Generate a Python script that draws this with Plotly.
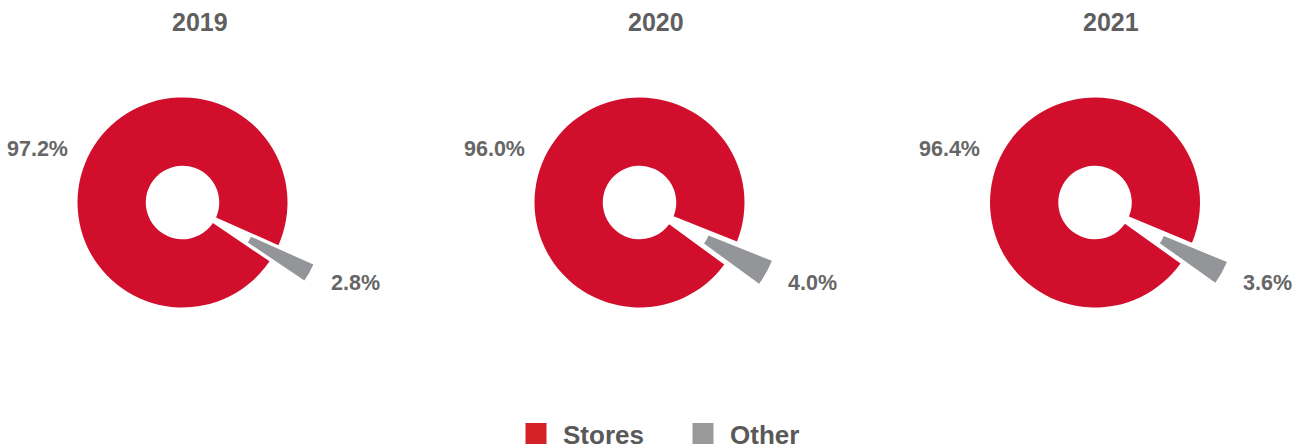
import math
import plotly.graph_objects as go

years = ["2019", "2020", "2021"]
categories = ["Stores", "Other"]
stores_pct = [97.2, 96.0, 96.4]
other_pct = [2.8, 4.0, 3.6]

slice_colors = ["#D10F2C", "#939598"]
legend_colors = ["#D42027", "#999999"]

FONT = "Liberation Sans, Arial, sans-serif"
W, H = 1294, 446
centers_x = [182.5, 639.5, 1095.0]
center_y = 202.5
radius = 105.0
pull = 0.38
other_center_angle = 119.0  # degrees clockwise from 12 o'clock
title_x = [200, 656, 1111]
label_r_stores = 125.0
label_r_other = 167.0
stores_label_tilt = -3.5

size = 2 * radius * (1 + pull)
wx = size / W
wy = size / H
yc = 1 - center_y / H


def polar_to_paper(cx, cy, r, ang_deg):
    a = math.radians(ang_deg)
    px = cx + r * math.sin(a)
    py = cy - r * math.cos(a)
    return px / W, 1 - py / H


fig = go.Figure()
for i, yr in enumerate(years):
    cx_px = centers_x[i]
    cx = cx_px / W
    vals = [stores_pct[i], other_pct[i]]
    total = sum(vals)
    rot = other_center_angle + 180 * other_pct[i] / total
    fig.add_trace(go.Pie(
        labels=categories,
        values=vals,
        sort=False,
        direction="clockwise",
        rotation=rot,
        hole=0.35,
        pull=[0, pull],
        marker=dict(colors=slice_colors, line=dict(width=0)),
        textinfo="none",
        domain=dict(x=[cx - wx / 2, cx + wx / 2], y=[yc - wy / 2, yc + wy / 2]),
        showlegend=False,
        name=yr,
        hovertemplate="%{label}: %{percent:.1%}<extra>" + yr + "</extra>",
    ))
    stores_mid = rot + 180 * stores_pct[i] / total
    other_mid = rot + 360 * stores_pct[i] / total + 180 * other_pct[i] / total
    sx, sy = polar_to_paper(cx_px, center_y, label_r_stores, stores_mid + stores_label_tilt)
    ox, oy = polar_to_paper(cx_px, center_y, label_r_other, other_mid)
    lab_font = dict(family=FONT, size=21.5, color="#666666", weight="bold")
    fig.add_annotation(x=sx, y=sy, xref="paper", yref="paper",
                       text=f"{stores_pct[i]:.1f}%", showarrow=False,
                       xanchor="right", yanchor="middle", font=lab_font)
    fig.add_annotation(x=ox, y=oy, xref="paper", yref="paper",
                       text=f"{other_pct[i]:.1f}%", showarrow=False,
                       xanchor="left", yanchor="middle", font=lab_font)
    fig.add_annotation(
        x=title_x[i] / W, y=1 - 22.5 / H, xref="paper", yref="paper",
        text=yr, showarrow=False, xanchor="center", yanchor="middle",
        font=dict(family=FONT, size=25, color="#5F5F5F", weight="bold"),
    )

for cat, col in zip(categories, legend_colors):
    fig.add_trace(go.Scatter(
        x=[None], y=[None], mode="markers", name=cat,
        marker=dict(symbol="square", size=16, color=col, line=dict(color=col, width=5)),
        showlegend=True, hoverinfo="skip",
    ))

fig.update_layout(
    width=W, height=H,
    margin=dict(l=0, r=0, t=0, b=0, autoexpand=False),
    paper_bgcolor="white", plot_bgcolor="white",
    xaxis=dict(visible=False), yaxis=dict(visible=False),
    legend=dict(
        orientation="h", x=676 / W, xanchor="center", y=1 - 410 / H, yanchor="top",
        font=dict(family=FONT, size=26, color="#595959", weight="bold"),
        itemwidth=44, entrywidth=108,
        itemclick=False, itemdoubleclick=False,
    ),
    font=dict(family=FONT),
)

fig.write_html("out.html", config={"displayModeBar": False},
               post_script="document.body.style.margin='0';")
